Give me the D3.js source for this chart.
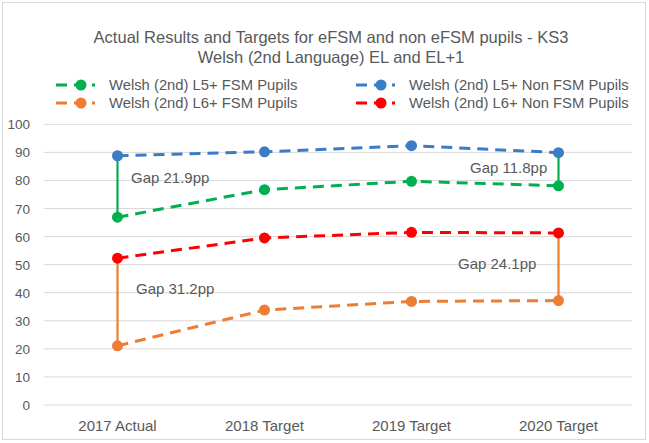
<!DOCTYPE html>
<html>
<head>
<meta charset="utf-8">
<script src="https://cdn.jsdelivr.net/npm/d3@7"></script>
<style>
  body { margin: 0; background: #fff; }
  text { font-family: "Liberation Sans", Arial, sans-serif; fill: #595959; }
</style>
</head>
<body>
<div id="chart"></div>
<script>
const width = 649;
const height = 443;

const categories = ["2017 Actual", "2018 Target", "2019 Target", "2020 Target"];
const yTicks = [0, 10, 20, 30, 40, 50, 60, 70, 80, 90, 100];

const l5Fsm = [66.9, 76.7, 79.7, 78.1];
const l5NonFsm = [88.8, 90.2, 92.4, 89.9];
const l6Fsm = [21.1, 33.8, 36.9, 37.2];
const l6NonFsm = [52.3, 59.5, 61.5, 61.3];

const seriesNames = [
    "Welsh (2nd) L5+ FSM Pupils",
    "Welsh (2nd) L5+ Non FSM Pupils",
    "Welsh (2nd) L6+ FSM Pupils",
    "Welsh (2nd) L6+ Non FSM Pupils"
];
const seriesColors = ["#00b050", "#3a7cc6", "#ed7d31", "#ff0000"];
const seriesValues = [l5Fsm, l5NonFsm, l6Fsm, l6NonFsm];

const gapLabels = ["Gap 21.9pp", "Gap 31.2pp", "Gap 11.8pp", "Gap 24.1pp"];

const svg = d3.select("#chart").append("svg")
    .attr("width", width)
    .attr("height", height);

svg.append("rect")
    .attr("x", 2.5).attr("y", 2.5)
    .attr("width", 643).attr("height", 437)
    .attr("fill", "#fff")
    .attr("stroke", "#d9d9d9");

const x = d3.scaleBand()
    .domain(categories)
    .range([44, 632]);

const y = d3.scaleLinear()
    .domain([0, 100])
    .range([405, 124.3]);

const cx = d => x(d) + x.bandwidth() / 2;

// gridlines
svg.append("g")
    .selectAll("line")
    .data(yTicks)
    .enter().append("line")
    .attr("x1", 44).attr("x2", 632)
    .attr("y1", d => y(d)).attr("y2", d => y(d))
    .attr("stroke", "#d9d9d9")
    .attr("stroke-width", 1);

// y labels
svg.append("g")
    .selectAll("text")
    .data(yTicks)
    .enter().append("text")
    .attr("x", 30)
    .attr("y", d => y(d) + 5)
    .attr("text-anchor", "end")
    .style("font-size", "13.5px")
    .text(d => d);

// x labels
svg.append("g")
    .selectAll("text")
    .data(categories)
    .enter().append("text")
    .attr("x", d => cx(d))
    .attr("y", 431)
    .attr("text-anchor", "middle")
    .style("font-size", "15px")
    .text(d => d);

// gap connectors (drawn under markers)
const gaps = [
    { i: 0, top: l5NonFsm, bottom: l5Fsm, color: seriesColors[0] },
    { i: 0, top: l6NonFsm, bottom: l6Fsm, color: seriesColors[2] },
    { i: 3, top: l5NonFsm, bottom: l5Fsm, color: seriesColors[0] },
    { i: 3, top: l6NonFsm, bottom: l6Fsm, color: seriesColors[2] }
];
svg.append("g")
    .selectAll("line")
    .data(gaps)
    .enter().append("line")
    .attr("x1", d => cx(categories[d.i]))
    .attr("x2", d => cx(categories[d.i]))
    .attr("y1", d => y(d.top[d.i]))
    .attr("y2", d => y(d.bottom[d.i]))
    .attr("stroke", d => d.color)
    .attr("stroke-width", 2.2);

const line = d3.line()
    .x((d, i) => cx(categories[i]))
    .y(d => y(d));

const drawOrder = [0, 2, 3, 1];
drawOrder.forEach(s => {
    const g = svg.append("g");
    g.append("path")
        .datum(seriesValues[s])
        .attr("d", line)
        .attr("fill", "none")
        .attr("stroke", seriesColors[s])
        .attr("stroke-width", 3)
        .attr("stroke-dasharray", "11,7");
    g.selectAll("circle")
        .data(seriesValues[s])
        .enter().append("circle")
        .attr("cx", (d, i) => cx(categories[i]))
        .attr("cy", d => y(d))
        .attr("r", 5.5)
        .attr("fill", seriesColors[s]);
});

// gap texts
const gapPos = [
    { x: 131, v: 80.9 },
    { x: 136, v: 41.2 },
    { x: 470, v: 84.4 },
    { x: 458, v: 50.3 }
];
svg.append("g")
    .selectAll("text")
    .data(gapLabels)
    .enter().append("text")
    .attr("x", (d, i) => gapPos[i].x)
    .attr("y", (d, i) => y(gapPos[i].v) + 5)
    .style("font-size", "15px")
    .text(d => d);

// title
svg.append("text")
    .attr("x", 331).attr("y", 43)
    .attr("text-anchor", "middle")
    .style("font-size", "16.5px")
    .text("Actual Results and Targets for eFSM and non eFSM pupils - KS3");
svg.append("text")
    .attr("x", 331).attr("y", 63)
    .attr("text-anchor", "middle")
    .style("font-size", "16.5px")
    .text("Welsh (2nd Language) EL and EL+1");

// legend
const legendPos = [
    { x: 56, y: 85 }, { x: 356, y: 85 },
    { x: 56, y: 103 }, { x: 356, y: 103 }
];
const legend = svg.append("g")
    .selectAll("g")
    .data(seriesNames)
    .enter().append("g")
    .attr("transform", (d, i) => `translate(${legendPos[i].x},${legendPos[i].y})`);
legend.append("line")
    .attr("x1", 0).attr("x2", 39)
    .attr("stroke", (d, i) => seriesColors[i])
    .attr("stroke-width", 3)
    .attr("stroke-dasharray", "11,7");
legend.append("circle")
    .attr("cx", 25).attr("r", 5.5)
    .attr("fill", (d, i) => seriesColors[i]);
legend.append("text")
    .attr("x", 53).attr("y", 5)
    .style("font-size", "14.8px")
    .text(d => d);
</script>
</body>
</html>
